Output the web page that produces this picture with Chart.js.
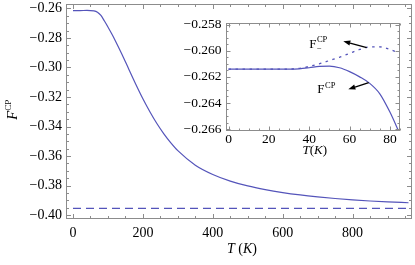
<!DOCTYPE html>
<html><head><meta charset="utf-8">
<script src="https://cdn.jsdelivr.net/npm/chart.js@4/dist/chart.umd.min.js"></script>
<style>
html,body{margin:0;padding:0;background:#fff;}
#wrap{position:relative;width:415px;height:265px;overflow:hidden;}
#main{position:absolute;left:0;top:0;}
#inset{position:absolute;left:178px;top:10px;}
</style></head><body>
<div id="wrap"><canvas id="main" width="415" height="265"></canvas><canvas id="inset" width="237" height="150"></canvas></div>
<script>
// ---- data ----
const mainT = [0, 20, 40, 60, 70, 80, 90, 100, 110, 120, 140, 160, 180, 200, 220, 240, 260, 280, 300, 350, 400, 450, 500, 550, 600, 650, 700, 750, 800, 850, 900, 960];
const mainF = [-0.2614, -0.2614, -0.2613, -0.2616, -0.2625, -0.2647, -0.2685, -0.2725, -0.2768, -0.2813, -0.2910, -0.3013, -0.3115, -0.3212, -0.3300, -0.3380, -0.3450, -0.3511, -0.3564, -0.3662, -0.3725, -0.3770, -0.3803, -0.3828, -0.3848, -0.3864, -0.3877, -0.3888, -0.3897, -0.3905, -0.3911, -0.3917];
const limitT = [0, 962];
const limitF = [-0.3955, -0.3955];
const mainXTicks = [0, 200, 400, 600, 800];
const mainYTicks = [-0.26, -0.28, -0.30, -0.32, -0.34, -0.36, -0.38, -0.40];

const insetT = [0, 5, 10, 15, 20, 25, 30, 35, 40, 45, 50, 55, 60, 65, 70, 75, 80, 85];
const insetF = [-0.2614, -0.2614, -0.2614, -0.2614, -0.2614, -0.2614, -0.2614, -0.26138, -0.2613, -0.2612, -0.26118, -0.2613, -0.2616, -0.2620, -0.2625, -0.2633, -0.2647, -0.2664];
const insetFminus = [-0.2614, -0.2614, -0.2614, -0.2614, -0.2614, -0.2614, -0.2614, -0.26135, -0.2612, -0.2610, -0.26075, -0.2605, -0.2602, -0.2599, -0.2597, -0.2597, -0.2599, -0.2602];
const insetXTicks = [0, 20, 40, 60, 80];
const insetYTicks = [-0.258, -0.260, -0.262, -0.264, -0.266];

// annotation anchors (inset data coordinates)
const labelMinus = {T: 40, F: -0.25975};
const arrowMinus = {fromT: 68.5, fromF: -0.25975, toT: 56.9, toF: -0.25927};
const labelPlain = {T: 44, F: -0.26325};
const arrowPlain = {fromT: 69.5, fromF: -0.26244, toT: 59.4, toF: -0.26295};

const LINE = '#5454ba';
const FRAME = '#8c8c8c';
const SERIF = "'Liberation Serif', 'DejaVu Serif', serif";

const pts = (xs, ys) => xs.map((x, i) => ({x, y: ys[i]}));
const minusFmt = (v, d) => (v < 0 ? '\u2212' : '') + Math.abs(v).toFixed(d);

function frameTicks(id, xMajor, xMinor, yMajor, yMinor, majLen, minLen) {
  return {
    id,
    afterDatasetsDraw(chart) {
      const {ctx, chartArea: a, scales: {x, y}} = chart;
      ctx.save();
      ctx.strokeStyle = FRAME;
      ctx.lineWidth = 1;
      const L = Math.round(a.left) + 0.5, R = Math.round(a.right) - 0.5;
      const T = Math.round(a.top) + 0.5, B = Math.round(a.bottom) - 0.5;
      ctx.strokeRect(L, T, R - L, B - T);
      ctx.beginPath();
      const eps = 1e-9;
      const xs = Math.ceil(x.min / xMinor) * xMinor;
      for (let k = 0; ; k++) {
        const v = xs + k * xMinor;
        if (v > x.max + eps) break;
        const isMaj = Math.abs(v / xMajor - Math.round(v / xMajor)) < 1e-6;
        const len = isMaj ? majLen : minLen;
        const px = Math.round(x.getPixelForValue(v)) + 0.5;
        ctx.moveTo(px, B); ctx.lineTo(px, B - len);
        ctx.moveTo(px, T); ctx.lineTo(px, T + len);
      }
      const ys = Math.ceil(y.min / yMinor) * yMinor;
      for (let k = 0; ; k++) {
        const v = ys + k * yMinor;
        if (v > y.max + eps) break;
        const isMaj = Math.abs(v / yMajor - Math.round(v / yMajor)) < 1e-6;
        const len = isMaj ? majLen : minLen;
        const py = Math.round(y.getPixelForValue(v)) + 0.5;
        ctx.moveTo(L, py); ctx.lineTo(L + len, py);
        ctx.moveTo(R, py); ctx.lineTo(R - len, py);
      }
      ctx.stroke();
      ctx.restore();
    }
  };
}

function drawSup(ctx, x, y, base, sup, sub, baseFont, smallFont, supDy, subDy) {
  ctx.font = baseFont;
  ctx.textAlign = 'left';
  ctx.textBaseline = 'alphabetic';
  ctx.fillText(base, x, y);
  const w = ctx.measureText(base).width;
  ctx.font = smallFont;
  ctx.fillText(sup, x + w + 0.5, y - supDy);
  if (sub) ctx.fillText(sub, x + w + 0.5, y + subDy);
}

const mainLabels = {
  id: 'mainLabels',
  afterDraw(chart) {
    const ctx = chart.ctx;
    ctx.save();
    ctx.fillStyle = '#000';
    ctx.textBaseline = 'alphabetic';
    ctx.textAlign = 'left';
    const parts = [['T', 'italic'], [' (', 'normal'], ['K', 'italic'], [')', 'normal']];
    let tw = 0;
    parts.forEach(p => { ctx.font = p[1] + ' 14px ' + SERIF; tw += ctx.measureText(p[0]).width; });
    let cx = 242 - tw / 2;
    parts.forEach(p => { ctx.font = p[1] + ' 14px ' + SERIF; ctx.fillText(p[0], cx, 253); cx += ctx.measureText(p[0]).width; });
    ctx.translate(17, 110);
    ctx.rotate(-Math.PI / 2);
    ctx.font = 'italic 14px ' + SERIF;
    const fw = ctx.measureText('F').width;
    ctx.font = '9px ' + SERIF;
    const cw = ctx.measureText('CP').width;
    drawSup(ctx, -(fw + cw) / 2, 0, 'F', 'CP', null, 'italic 14px ' + SERIF, '9px ' + SERIF, 6, 0);
    ctx.restore();
  }
};

function arrow(ctx, x1, y1, x2, y2) {
  const ang = Math.atan2(y2 - y1, x2 - x1);
  const hl = 7, hw = 2.6;
  const bx = x2 - hl * Math.cos(ang), by = y2 - hl * Math.sin(ang);
  ctx.beginPath();
  ctx.moveTo(x1, y1); ctx.lineTo(bx, by);
  ctx.stroke();
  ctx.beginPath();
  ctx.moveTo(x2, y2);
  ctx.lineTo(bx + hw * Math.sin(ang), by - hw * Math.cos(ang));
  ctx.lineTo(bx - hw * Math.sin(ang), by + hw * Math.cos(ang));
  ctx.closePath();
  ctx.fill();
}

const insetLabels = {
  id: 'insetLabels',
  afterDraw(chart) {
    const {ctx, scales: {x, y}} = chart;
    ctx.save();
    ctx.fillStyle = '#000';
    ctx.strokeStyle = '#000';
    ctx.lineWidth = 1.3;
    const parts = [['T', 'italic'], ['(', 'normal'], ['K', 'italic'], [')', 'normal']];
    let tw = 0;
    parts.forEach(p => { ctx.font = p[1] + ' 13px ' + SERIF; tw += ctx.measureText(p[0]).width; });
    let cx = (chart.chartArea.left + chart.chartArea.right) / 2 - tw / 2 + 2;
    ctx.textBaseline = 'alphabetic';
    ctx.textAlign = 'left';
    parts.forEach(p => { ctx.font = p[1] + ' 13px ' + SERIF; ctx.fillText(p[0], cx, 144); cx += ctx.measureText(p[0]).width; });
    drawSup(ctx, x.getPixelForValue(labelMinus.T), y.getPixelForValue(labelMinus.F), 'F', 'CP', '\u2212', '13px ' + SERIF, '8.5px ' + SERIF, 5.5, 3);
    drawSup(ctx, x.getPixelForValue(labelPlain.T), y.getPixelForValue(labelPlain.F), 'F', 'CP', null, '13px ' + SERIF, '8.5px ' + SERIF, 5.5, 0);
    arrow(ctx, x.getPixelForValue(arrowMinus.fromT), y.getPixelForValue(arrowMinus.fromF), x.getPixelForValue(arrowMinus.toT), y.getPixelForValue(arrowMinus.toF));
    arrow(ctx, x.getPixelForValue(arrowPlain.fromT), y.getPixelForValue(arrowPlain.fromF), x.getPixelForValue(arrowPlain.toT), y.getPixelForValue(arrowPlain.toF));
    ctx.restore();
  }
};

function axis(min, max, tickVals, fmt, pad, fixW, fixH, fontSize) {
  return {
    type: 'linear', min, max,
    grid: {display: false, drawTicks: false},
    border: {display: false},
    afterBuildTicks: s => { s.ticks = tickVals.map(v => ({value: v})); },
    afterFit: s => {
      if (fixW != null) s.width = fixW;
      if (fixH != null) s.height = fixH;
      s.paddingTop = 0; s.paddingBottom = 0; s.paddingLeft = 0; s.paddingRight = 0;
    },
    ticks: {
      color: '#000', padding: pad, maxRotation: 0, autoSkip: false,
      font: {family: SERIF, size: fontSize},
      callback: v => fmt(v)
    }
  };
}

Chart.defaults.animation = false;

new Chart(document.getElementById('main'), {
  type: 'line',
  data: {
    datasets: [
      {data: pts(mainT, mainF), borderColor: LINE, borderWidth: 1.2, pointRadius: 0, cubicInterpolationMode: 'monotone', fill: false},
      {data: pts(limitT, limitF), borderColor: LINE, borderWidth: 1.2, borderDash: [8, 5], pointRadius: 0, fill: false}
    ]
  },
  options: {
    responsive: false, devicePixelRatio: 1, animation: false,
    layout: {padding: {left: 0, top: 4, right: 3, bottom: 0}},
    plugins: {legend: {display: false}, tooltip: {enabled: false}},
    scales: {
      x: axis(-20, 970, mainXTicks, v => String(v), 6, null, 46, 14),
      y: axis(-0.40271, -0.25695, mainYTicks, v => minusFmt(v, 2), 4, 66, null, 14)
    }
  },
  plugins: [frameTicks('ft', 200, 50, 0.02, 0.005, 4.5, 2.5), mainLabels]
});

new Chart(document.getElementById('inset'), {
  type: 'line',
  data: {
    datasets: [
      {data: pts(insetT, insetF), borderColor: LINE, borderWidth: 1.2, pointRadius: 0, cubicInterpolationMode: 'monotone', fill: false},
      {data: pts(insetT, insetFminus), borderColor: LINE, borderWidth: 1.3, borderDash: [2.5, 4.5], pointRadius: 0, cubicInterpolationMode: 'monotone', fill: false}
    ]
  },
  options: {
    responsive: false, devicePixelRatio: 1, animation: false,
    layout: {padding: {left: 0, top: 13, right: 15, bottom: 0}},
    plugins: {legend: {display: false}, tooltip: {enabled: false}},
    scales: {
      x: axis(-1.5, 85, insetXTicks, v => String(v), 0, null, 29, 13.5),
      y: axis(-0.26615, -0.25787, insetYTicks, v => minusFmt(v, 3), 4, 47.5, null, 13.5)
    }
  },
  plugins: [frameTicks('ft2', 20, 5, 0.002, 0.0005, 4, 2), insetLabels]
});
</script>
</body></html>
